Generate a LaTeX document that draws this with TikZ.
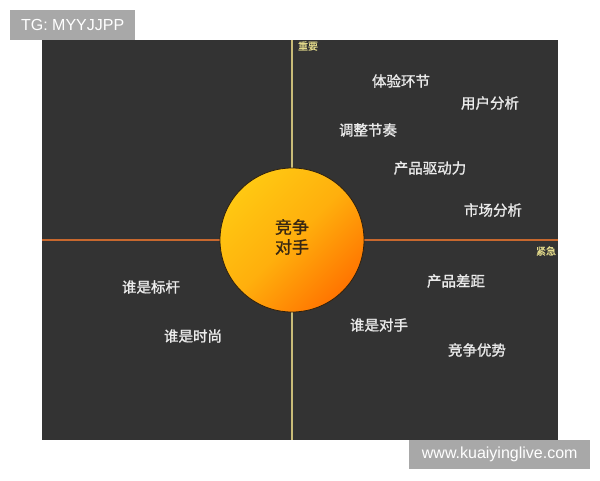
\documentclass[tikz,border=0pt]{standalone}
\usepackage{fontspec}
\setmainfont{Liberation Sans}
\newfontfamily\cjk{Noto Sans CJK SC}
\newfontfamily\cjkb[FakeBold=1.2]{Noto Sans CJK SC}
\definecolor{bgdark}{HTML}{333333}
\definecolor{wmgray}{HTML}{A8A8A8}
\definecolor{vline}{HTML}{C9BC78}
\definecolor{hline}{HTML}{C8682E}
\definecolor{ballA}{HTML}{FFC812}
\definecolor{ballB}{HTML}{FF7400}
\definecolor{balltext}{HTML}{3A2812}
\definecolor{axislbl}{HTML}{E2D98A}
\begin{document}
\begin{tikzpicture}[x=1pt,y=-1pt,
  item/.style={text=white!92!black,font=\cjkb\fontsize{14.5}{17}\selectfont,inner sep=0pt},
  axl/.style={text=axislbl,font=\cjkb\fontsize{10}{11}\selectfont,inner sep=0pt},
  wm/.style={fill=wmgray,text=white,font=\fontsize{16}{18}\selectfont,inner sep=0pt,anchor=north west}]
\useasboundingbox (0,0) rectangle (600,480);
\fill[white] (0,0) rectangle (600,480);
\fill[bgdark] (42,40) rectangle (558,440);
% axes
\coordinate (vt) at (292,40);
\coordinate (vb) at (292,440);
\coordinate (hl) at (42,240);
\coordinate (hr) at (558,240);
\draw[hline,line width=2pt] (hl) -- (hr);
\draw[vline,line width=2pt] (vt) -- (vb);
% ball
\node[circle,minimum size=144,inner sep=0pt,draw=balltext!80!black,line width=0.8pt,
  top color=ballA,bottom color=ballB,middle color=ballA!70!ballB,shading angle=45] (ball) at (292,240) {};
\node[text=balltext,font=\cjkb\fontsize{17}{20}\selectfont,align=center,inner sep=0pt] (balltxt) at (292,237) {竞争\\对手};
% axis labels
\node[axl] (imp) at (308,46) {重要};
\node[axl] (urg) at (546,251) {紧急};
% items
\node[item] (a1) at (401,81) {体验环节};
\node[item] (a2) at (490,103) {用户分析};
\node[item] (a3) at (368,130) {调整节奏};
\node[item] (a4) at (430,168) {产品驱动力};
\node[item] (a5) at (493,210) {市场分析};
\node[item] (a6) at (456,281) {产品差距};
\node[item] (a7) at (379,325) {谁是对手};
\node[item] (a8) at (477,350) {竞争优势};
\node[item] (a9) at (151,287) {谁是标杆};
\node[item] (a10) at (193,336) {谁是时尚};
% watermarks
\node[wm,minimum width=125,minimum height=30] (tg) at (10,10) {};
\node[text=white,font=\fontsize{16}{18}\selectfont,inner sep=0pt] (tgt) at (tg.center) {TG: MYYJJPP};
\node[wm,minimum width=181,minimum height=29] (site) at (409,440) {};
\node[text=white,font=\fontsize{16}{18}\selectfont,inner sep=0pt] (sitet) at (site.center) {www.kuaiyinglive.com};
\end{tikzpicture}
\end{document}
